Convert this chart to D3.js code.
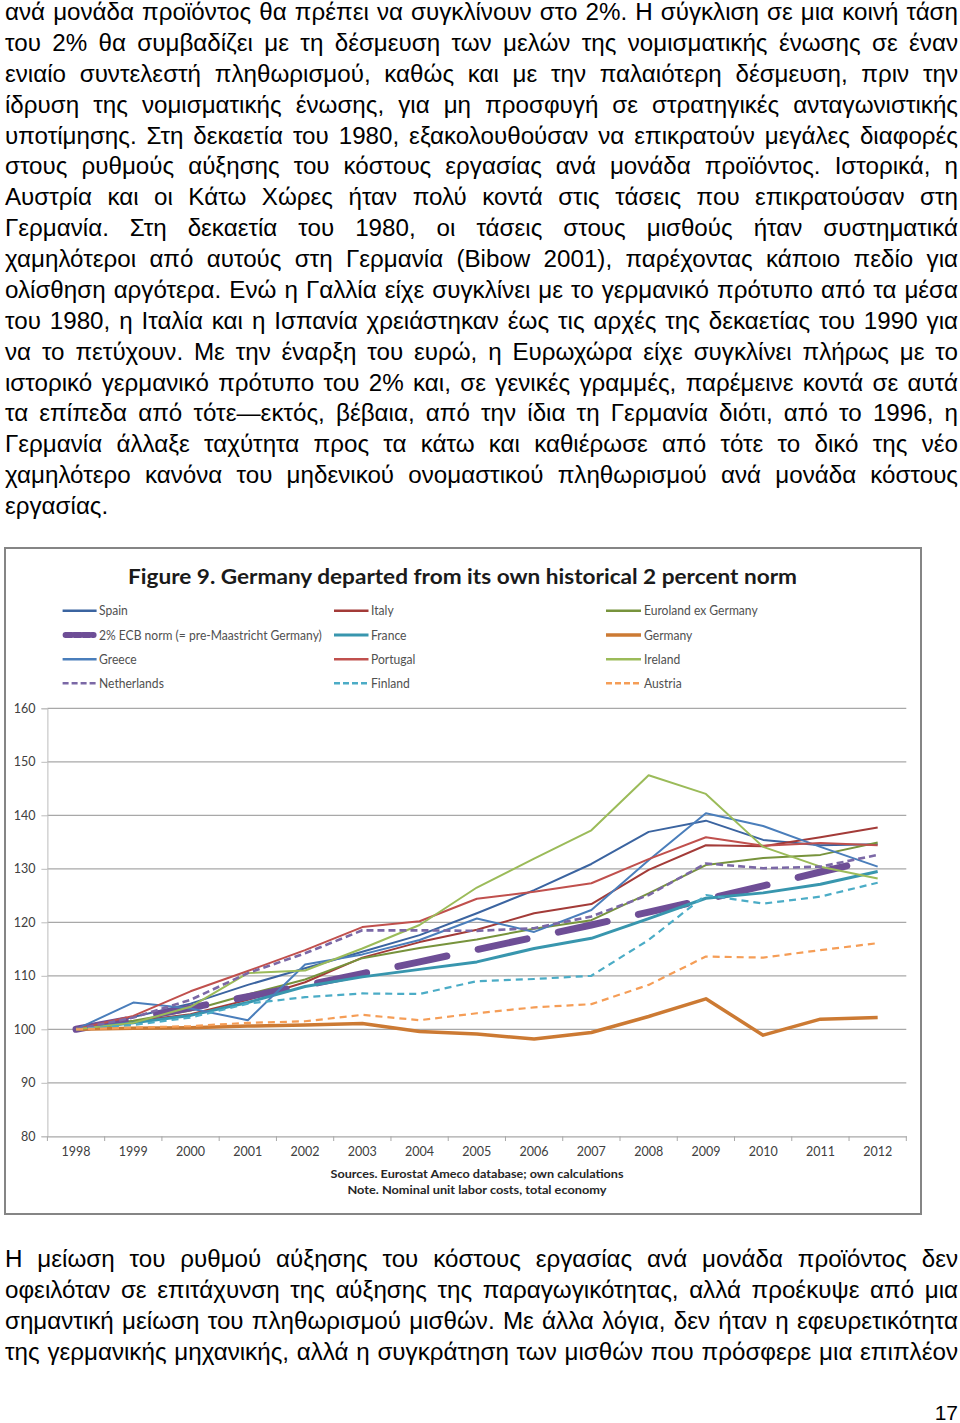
<!DOCTYPE html>
<html>
<head>
<meta charset="utf-8">
<script src="https://cdn.jsdelivr.net/npm/d3@7"></script>
<style>
  html, body { margin: 0; padding: 0; background: #fff; }
  svg { display: block; }
</style>
</head>
<body>
<svg id="page" width="960" height="1423"></svg>
<script>
// ---------------- DATA ----------------
const years = [1998, 1999, 2000, 2001, 2002, 2003, 2004, 2005, 2006, 2007, 2008, 2009, 2010, 2011, 2012];
const yTicks = [80, 90, 100, 110, 120, 130, 140, 150, 160];

const spain       = [100, 102.3, 104.8, 108.3, 111.4, 114.5, 117.6, 121.7, 126.0, 130.9, 136.9, 139.0, 135.4, 134.4, 134.6];
const italy       = [100, 101.5, 102.8, 105.5, 108.8, 113.4, 116.3, 118.6, 121.7, 123.4, 129.8, 134.4, 134.2, 135.9, 137.7];
const euroExDe    = [100, 101.6, 103.5, 106.5, 109.3, 113.3, 115.2, 116.8, 118.8, 120.4, 125.4, 130.7, 132.0, 132.6, 134.9];
const ecbNorm     = [100, 102.0, 104.0, 106.1, 108.2, 110.4, 112.6, 114.9, 117.2, 119.5, 121.9, 124.3, 126.8, 129.4, 131.9];
const france      = [100, 101.2, 102.6, 105.0, 108.0, 109.8, 111.2, 112.6, 115.1, 117.0, 120.7, 124.5, 125.5, 127.1, 129.5];
const germany     = [100, 100.2, 100.3, 100.6, 100.8, 101.1, 99.6, 99.1, 98.2, 99.4, 102.4, 105.7, 98.9, 101.9, 102.2];
const greece      = [100, 105.0, 103.9, 101.7, 112.1, 114.0, 116.7, 120.7, 118.2, 122.3, 131.6, 140.4, 138.0, 134.1, 130.4];
const portugal    = [100, 102.5, 107.1, 110.9, 114.8, 119.1, 120.2, 124.4, 125.7, 127.3, 131.8, 135.9, 134.3, 134.8, 134.4];
const ireland     = [100, 101.2, 104.2, 110.5, 111.0, 115.1, 119.5, 126.5, 131.9, 137.2, 147.5, 144.0, 134.1, 130.4, 128.2];
const netherlands = [100, 102.2, 105.5, 110.5, 114.2, 118.5, 118.5, 118.4, 118.9, 121.1, 125.1, 131.0, 130.1, 130.4, 132.6];
const finland     = [100, 100.8, 102.2, 104.8, 106.0, 106.7, 106.6, 109.0, 109.4, 110.0, 116.7, 125.1, 123.5, 124.8, 127.4];
const austria     = [100, 100.3, 100.6, 101.2, 101.5, 102.7, 101.7, 103.0, 104.1, 104.7, 108.3, 113.6, 113.4, 114.8, 116.1];

const seriesNames = ["Spain", "Italy", "Euroland ex Germany",
                     "2% ECB norm (= pre-Maastricht Germany)", "France", "Germany",
                     "Greece", "Portugal", "Ireland",
                     "Netherlands", "Finland", "Austria"];
const seriesValues = [spain, italy, euroExDe, ecbNorm, france, germany, greece, portugal, ireland, netherlands, finland, austria];

const chartTitle = "Figure 9. Germany departed from its own historical 2 percent norm";
const sourceLines = ["Sources. Eurostat Ameco database; own calculations", "Note. Nominal unit labor costs, total economy"];

const topParagraph = [
  "ανά μονάδα προϊόντος θα πρέπει να συγκλίνουν στο 2%. Η σύγκλιση σε μια κοινή τάση",
  "του 2% θα συμβαδίζει με τη δέσμευση των μελών της νομισματικής ένωσης σε έναν",
  "ενιαίο συντελεστή πληθωρισμού, καθώς και με την παλαιότερη δέσμευση, πριν την",
  "ίδρυση της νομισματικής ένωσης, για μη προσφυγή σε στρατηγικές ανταγωνιστικής",
  "υποτίμησης. Στη δεκαετία του 1980, εξακολουθούσαν να επικρατούν μεγάλες διαφορές",
  "στους ρυθμούς αύξησης του κόστους εργασίας ανά μονάδα προϊόντος. Ιστορικά, η",
  "Αυστρία και οι Κάτω Χώρες ήταν πολύ κοντά στις τάσεις που επικρατούσαν στη",
  "Γερμανία. Στη δεκαετία του 1980, οι τάσεις στους μισθούς ήταν συστηματικά",
  "χαμηλότεροι από αυτούς στη Γερμανία (Bibow 2001), παρέχοντας κάποιο πεδίο για",
  "ολίσθηση αργότερα. Ενώ η Γαλλία είχε συγκλίνει με το γερμανικό πρότυπο από τα μέσα",
  "του 1980, η Ιταλία και η Ισπανία χρειάστηκαν έως τις αρχές της δεκαετίας του 1990 για",
  "να το πετύχουν. Με την έναρξη του ευρώ, η Ευρωχώρα είχε συγκλίνει πλήρως με το",
  "ιστορικό γερμανικό πρότυπο του 2% και, σε γενικές γραμμές, παρέμεινε κοντά σε αυτά",
  "τα επίπεδα από τότε—εκτός, βέβαια, από την ίδια τη Γερμανία διότι, από το 1996, η",
  "Γερμανία άλλαξε ταχύτητα προς τα κάτω και καθιέρωσε από τότε το δικό της νέο",
  "χαμηλότερο κανόνα του μηδενικού ονομαστικού πληθωρισμού ανά μονάδα κόστους",
  "εργασίας."
];
const bottomParagraph = [
  "Η μείωση του ρυθμού αύξησης του κόστους εργασίας ανά μονάδα προϊόντος δεν",
  "οφειλόταν σε επιτάχυνση της αύξησης της παραγωγικότητας, αλλά προέκυψε από μια",
  "σημαντική μείωση του πληθωρισμού μισθών. Με άλλα λόγια, δεν ήταν η εφευρετικότητα",
  "της γερμανικής μηχανικής, αλλά η συγκράτηση των μισθών που πρόσφερε μια επιπλέον"
];
const pageNumber = "17";

// ---------------- STYLES ----------------
const styles = [
  {color: "#3B64A0", width: 2,   dash: null},        // Spain
  {color: "#A33B38", width: 2,   dash: null},        // Italy
  {color: "#77933C", width: 2,   dash: null},        // Euroland ex Germany
  {color: "#6E4E96", width: 7,   dash: "50,32", cap: "round"}, // ECB norm
  {color: "#3896AE", width: 3,   dash: null},        // France
  {color: "#CC7A33", width: 3.5, dash: null},        // Germany
  {color: "#4A7EBB", width: 2,   dash: null},        // Greece
  {color: "#C0504D", width: 2,   dash: null},        // Portugal
  {color: "#9BBB59", width: 2,   dash: null},        // Ireland
  {color: "#7B68A6", width: 2.6, dash: "7,4"},       // Netherlands
  {color: "#4BACC6", width: 2.2, dash: "7,5"},       // Finland
  {color: "#F59D56", width: 2.2, dash: "7,5"}        // Austria
];

const svg = d3.select("#page");
const bodyFont = "'Liberation Sans', Arial, sans-serif";
const chartFont = "Lato, 'Open Sans', sans-serif";

// ---------------- BODY TEXT ----------------
const textLeft = 5, textWidth = 953;
const gTop = svg.append("g").attr("font-family", bodyFont).attr("fill", "#000");

// choose a font size so the widest line sets naturally at the full width
const probe = gTop.append("text").attr("font-size", 22);
let maxLen = 0;
topParagraph.concat(bottomParagraph).forEach(l => {
  probe.text(l);
  maxLen = Math.max(maxLen, probe.node().getComputedTextLength());
});
probe.remove();
const bodySize = 22 * textWidth / (maxLen + 10);
gTop.attr("font-size", bodySize);

function justifyLine(sel, target, justify) {
  const node = sel.node();
  const len = node.getComputedTextLength();
  const text = sel.text();
  const spaces = (text.match(/ /g) || []).length;
  if (len > target) {
    sel.attr("textLength", target).attr("lengthAdjust", "spacingAndGlyphs");
  } else if (justify && spaces > 0) {
    sel.attr("word-spacing", (target - len) / spaces);
  }
}
topParagraph.forEach((line, i) => {
  const t = gTop.append("text").attr("x", textLeft).attr("y", 20 + i * 30.875).text(line);
  justifyLine(t, textWidth, i < topParagraph.length - 1);
});
bottomParagraph.forEach((line, i) => {
  const t = gTop.append("text").attr("x", textLeft).attr("y", 1267 + i * 30.9).text(line);
  justifyLine(t, textWidth, true);
});
gTop.append("text").attr("x", 958).attr("y", 1420).attr("text-anchor", "end").attr("font-size", 21).text(pageNumber);

// ---------------- CHART FRAME ----------------
svg.append("rect").attr("x", 5).attr("y", 548).attr("width", 916).attr("height", 666)
  .attr("fill", "#fff").attr("stroke", "#858585").attr("stroke-width", 2);

const chart = svg.append("g").attr("font-family", chartFont);

// title
chart.append("text").attr("x", 462.5).attr("y", 584).attr("text-anchor", "middle")
  .attr("font-size", 20).attr("font-weight", "bold").attr("fill", "#1a1a1a")
  .attr("textLength", 669).attr("lengthAdjust", "spacingAndGlyphs").text(chartTitle);

// scales
const x = d3.scaleBand().domain(years).range([47.4, 906.3]).padding(0);
const xc = d => x(d) + x.bandwidth() / 2;
const y = d3.scaleLinear().domain([80, 160]).range([1136.3, 708.3]);

// gridlines
chart.append("g").selectAll("line").data(yTicks.filter(v => v > 80)).join("line")
  .attr("x1", 47.4).attr("x2", 906.3).attr("y1", d => y(d)).attr("y2", d => y(d))
  .attr("stroke", "#a8a8a8").attr("stroke-width", 1.2);

// y axis
const yAxis = chart.append("g").attr("transform", "translate(47.4,0)")
  .call(d3.axisLeft(y).tickValues(yTicks).tickSize(6).tickPadding(6).tickFormat(d3.format("d")));
yAxis.select(".domain").attr("stroke", "#bcbcbc");
yAxis.selectAll(".tick line").attr("stroke", "#bcbcbc");
yAxis.selectAll(".tick text").attr("font-family", chartFont).attr("font-size", 12.5).attr("fill", "#404040");

// x axis
const xAxis = chart.append("g").attr("transform", "translate(0,1136.3)")
  .call(d3.axisBottom(x).tickSize(0).tickPadding(11));
xAxis.select(".domain").attr("stroke", "#a8a8a8").attr("stroke-width", 1.2);
xAxis.selectAll(".tick text").attr("font-family", chartFont).attr("font-size", 12.5).attr("fill", "#404040");
chart.append("g").selectAll("line").data(years.concat([null])).join("line")
  .attr("x1", (d, i) => 47.4 + i * x.bandwidth()).attr("x2", (d, i) => 47.4 + i * x.bandwidth())
  .attr("y1", 1136.3).attr("y2", 1141).attr("stroke", "#a8a8a8");

// sources
sourceLines.forEach((s, i) => {
  chart.append("text").attr("x", 477).attr("y", 1177.5 + i * 16).attr("text-anchor", "middle")
    .attr("font-size", 12).attr("font-weight", "bold").attr("fill", "#262626")
    .attr("textLength", i === 0 ? 293 : 259).attr("lengthAdjust", "spacingAndGlyphs").text(s);
});

// lines
const line = d3.line().x((d, i) => xc(years[i])).y(d => y(d));
const gLines = chart.append("g").attr("fill", "none").attr("stroke-linejoin", "round");
seriesValues.forEach((vals, k) => {
  const st = styles[k];
  gLines.append("path").datum(vals).attr("d", line)
    .attr("stroke", st.color).attr("stroke-width", st.width)
    .attr("stroke-dasharray", st.dash)
    .attr("stroke-linecap", st.cap || "butt");
});

// legend
const legCols = [{x0: 62.6, x1: 96.6, tx: 99}, {x0: 334, x1: 368.5, tx: 371}, {x0: 606, x1: 641, tx: 644}];
const legRows = [610.7, 635, 659.3, 683.3];
const gLeg = chart.append("g");
seriesNames.forEach((name, k) => {
  const c = legCols[k % 3], r = legRows[Math.floor(k / 3)];
  const st = styles[k];
  gLeg.append("line").attr("x1", c.x0 + (st.cap ? 3 : 0)).attr("x2", c.x1 - (st.cap ? 3 : 0)).attr("y1", r).attr("y2", r)
    .attr("stroke", st.color).attr("stroke-width", st.cap ? 6 : Math.max(st.width, 2.5))
    .attr("stroke-dasharray", st.dash ? "6,3" : null)
    .attr("stroke-linecap", st.cap || "butt");
  const t = gLeg.append("text").attr("x", c.tx).attr("y", r + 4.5)
    .attr("font-size", 13).attr("fill", "#505050").text(name);
  const len = t.node().getComputedTextLength();
  t.attr("textLength", len * 0.93).attr("lengthAdjust", "spacingAndGlyphs");
});
</script>
</body>
</html>
